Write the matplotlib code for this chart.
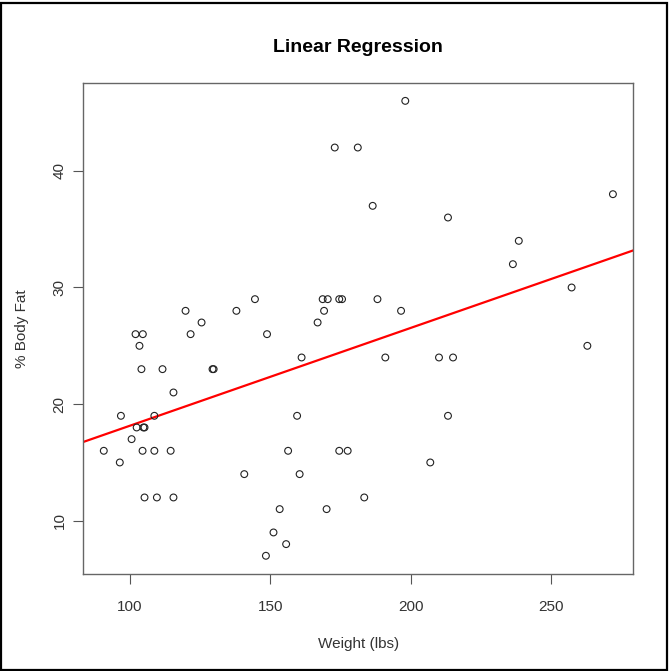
import numpy as np
import matplotlib.pyplot as plt
from matplotlib.patches import Rectangle

plt.rcParams['font.family'] = ['Liberation Sans', 'DejaVu Sans']

# weight (lbs) and % body fat
weight = [90.7, 96.4, 96.8, 100.6, 102.4, 104.8, 105.2, 102.0, 104.6, 103.4,
          104.1, 104.5, 108.7, 108.7, 114.5, 105.2, 109.6, 115.5, 111.6, 115.5,
          119.8, 121.6, 125.5, 129.4, 129.8, 137.9, 144.5, 148.8, 140.7, 153.3,
          151.1, 155.6, 148.4, 170.0, 183.4, 198.0, 172.9, 181.1, 186.4, 213.2,
          238.4, 236.3, 257.2, 271.9, 196.5, 190.9, 210.0, 215.0, 262.8, 168.6,
          170.4, 174.5, 175.5, 188.1, 169.1, 166.8, 161.1, 159.5, 213.2, 156.3,
          174.5, 177.5, 206.9, 160.4]
body_fat = [16, 15, 19, 17, 18, 18, 18, 26, 26, 25,
            23, 16, 19, 16, 16, 12, 12, 12, 23, 21,
            28, 26, 27, 23, 23, 28, 29, 26, 14, 11,
            9, 8, 7, 11, 12, 46, 42, 42, 37, 36,
            34, 32, 30, 38, 28, 24, 24, 24, 25, 29,
            29, 29, 29, 29, 28, 27, 24, 19, 19, 16,
            16, 16, 15, 14]

# fitted line (intercept, slope) as drawn in the reference
intercept = 9.76
slope = 0.0839

xticks = [100, 150, 200, 250]
yticks = [10, 20, 30, 40]

fig = plt.figure(figsize=(6.7, 6.71), dpi=100)
ax = fig.add_axes([0.1245, 0.1446, 0.9452 - 0.1245, 0.8768 - 0.1446])

ax.scatter(weight, body_fat, s=24, facecolors='none', edgecolors='#222222',
           linewidths=0.8, zorder=3)
ax.axline((0, intercept), slope=slope, color='#ff0000', lw=1.6, zorder=2)

# R style 4% padding
xr = max(weight) - min(weight)
yr = max(body_fat) - min(body_fat)
ax.set_xlim(min(weight) - 0.04 * xr, max(weight) + 0.04 * xr)
ax.set_ylim(min(body_fat) - 0.04 * yr, max(body_fat) + 0.04 * yr)

ax.set_xticks(xticks)
ax.set_yticks(yticks)
ax.set_xticklabels([str(t) for t in xticks])
ax.set_yticklabels([str(t) for t in yticks], rotation=90, va='center')
ax.tick_params(length=7, width=0.8, color='#555555', labelcolor='#333333',
               labelsize=11)
ax.tick_params(axis='x', pad=12)
ax.tick_params(axis='y', pad=5)
for sp in ax.spines.values():
    sp.set_color('#666666')
    sp.set_linewidth(1.0)

ax.set_title('Linear Regression', fontsize=14, fontweight='bold', pad=22)
ax.set_xlabel('Weight (lbs)', fontsize=11, color='#333333', labelpad=16)
ax.set_ylabel('% Body Fat', fontsize=11, color='#333333', labelpad=17)

# outer frame around the picture
fig.patches.append(Rectangle((0.002, 0.002), 0.994, 0.993, transform=fig.transFigure,
                             fill=False, edgecolor='black', lw=1.6))

fig.savefig('out.png', dpi=100)
